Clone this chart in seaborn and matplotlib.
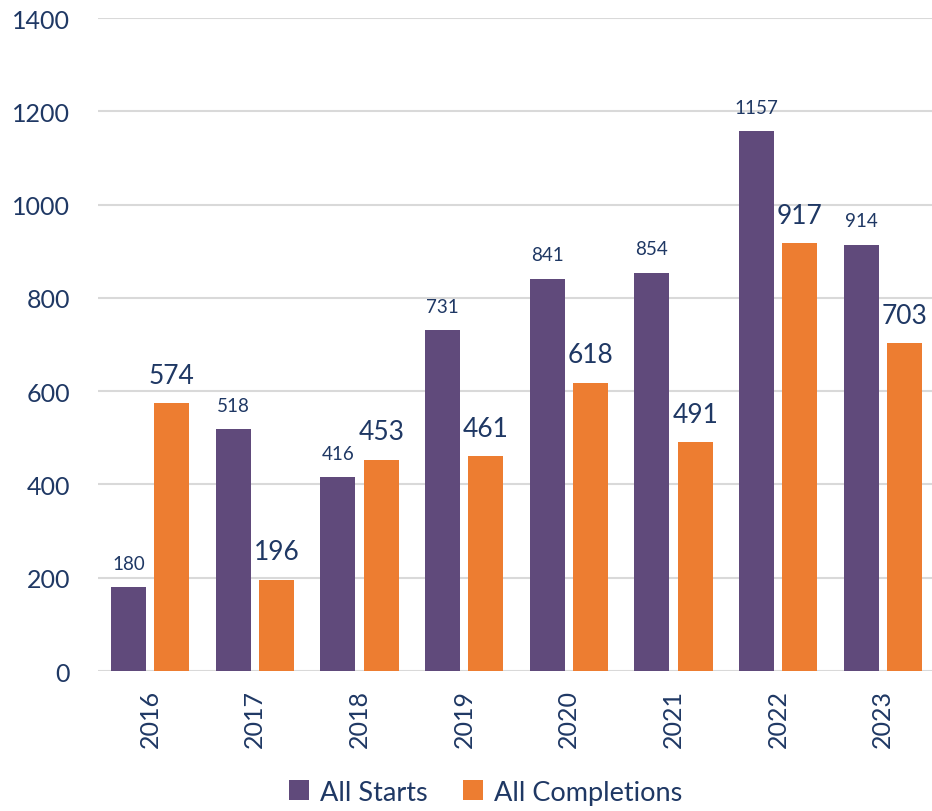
import matplotlib
matplotlib.use("Agg")
import matplotlib.pyplot as plt
import pandas as pd
import seaborn as sns

# ------------------------------------------
# DATA
# ------------------------------------------

years       = ["2016", "2017", "2018", "2019", "2020", "2021", "2022", "2023"]
starts      = [180, 518, 416, 731, 841, 854, 1157, 914]
completions = [574, 196, 453, 461, 618, 491, 917, 703]
series      = ["All Starts", "All Completions"]

PURPLE = "#604A7B"
ORANGE = "#ED7D31"
NAVY   = "#1F3864"
GRID   = "#D9D9D9"

df = pd.DataFrame({
    "year": years * 2,
    "value": starts + completions,
    "series": [series[0]] * len(years) + [series[1]] * len(years),
})

# ------------------------------------------
# PLOT
# ------------------------------------------

sns.set_style("white")
plt.rcParams["font.family"] = ["Lato", "DejaVu Sans"]

fig = plt.figure(figsize=(9.32, 8.12), dpi=100)
ax = fig.add_axes([0.105, 0.1724, 0.895, 0.8042])

sns.barplot(
    data=df, x="year", y="value", hue="series",
    palette=[PURPLE, ORANGE], saturation=1, width=0.83, gap=0.195,
    edgecolor="none", legend=True, ax=ax,
)

ax.set_ylim(0, 1400)
ax.set_yticks(range(0, 1401, 200))
ax.set_xlim(-0.5, 7.47)
ax.yaxis.grid(True, color=GRID, linewidth=1.5)
ax.set_axisbelow(True)
for s in ax.spines.values():
    s.set_visible(False)
ax.tick_params(length=0)
ax.tick_params(axis="y", labelsize=18, labelcolor=NAVY, pad=20)
ax.tick_params(axis="x", labelsize=18, labelcolor=NAVY, rotation=90, pad=13)
ax.set_xlabel("")
ax.set_ylabel("")

# value labels: small for starts, large for completions
ax.bar_label(ax.containers[0], fontsize=13.5, color=NAVY, padding=11)
ax.bar_label(ax.containers[1], fontsize=19, color=NAVY, padding=11)

handles, labels = ax.get_legend_handles_labels()
ax.legend_.remove()
fig.legend(
    handles, labels, loc="center", bbox_to_anchor=(0.521, 0.023),
    ncol=2, frameon=False, fontsize=19.5, labelcolor=NAVY,
    handlelength=0.75, handleheight=0.75, handletextpad=0.4, columnspacing=1.3,
)

fig.savefig("out.png", dpi=100)
